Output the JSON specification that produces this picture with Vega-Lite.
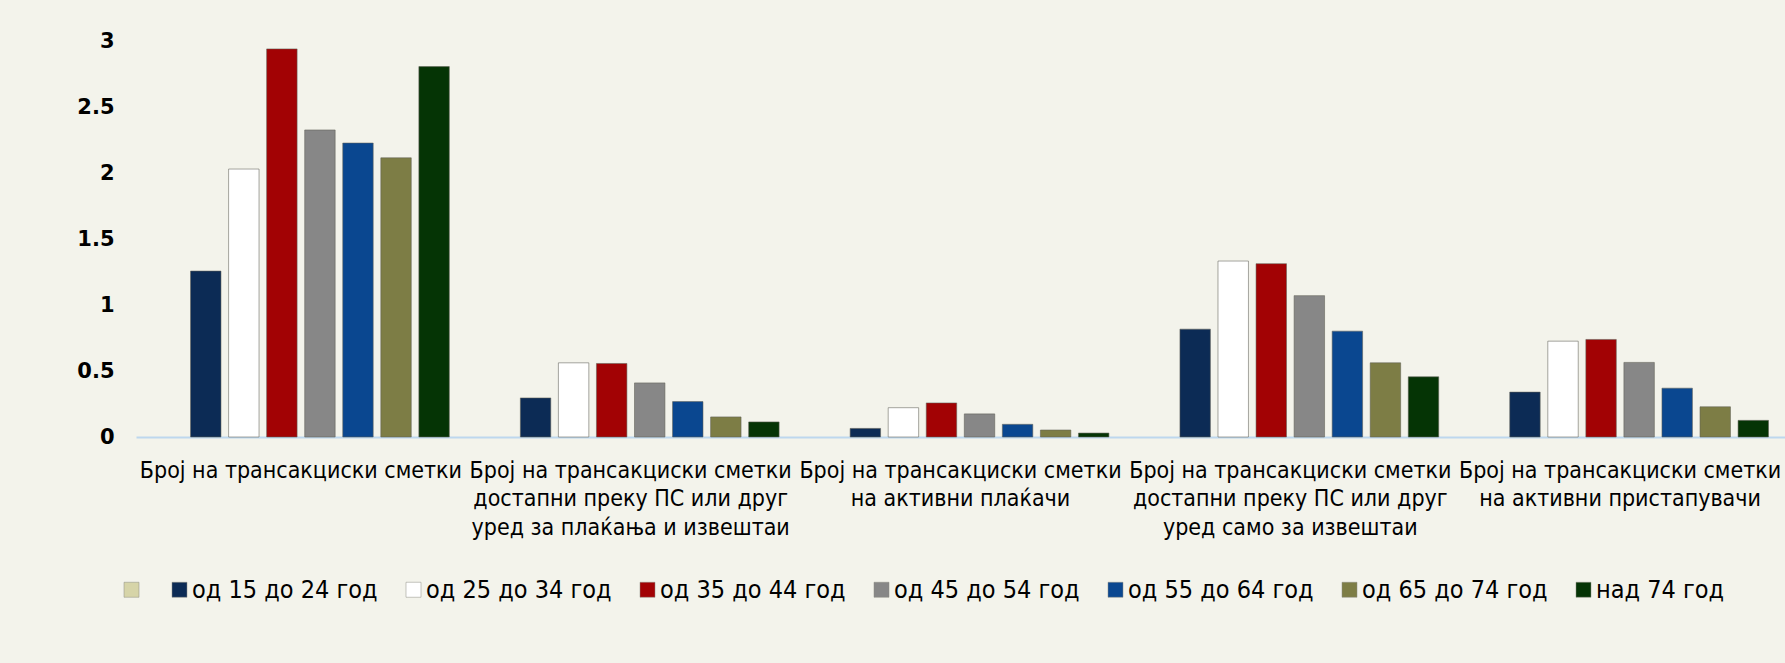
{
  "$schema": "https://vega.github.io/schema/vega-lite/v6.json",
  "width": 1649,
  "height": 396,
  "autosize": {"type": "none"},
  "padding": {"left": 136, "top": 41, "right": 0, "bottom": 226},
  "background": "#f3f3eb",
  "data": {
    "values": [
      {"category": "Број на трансакциски сметки", "group": "од 15 до 24 год", "value": 1.257},
      {"category": "Број на трансакциски сметки", "group": "од 25 до 34 год", "value": 2.03},
      {"category": "Број на трансакциски сметки", "group": "од 35 до 44 год", "value": 2.94},
      {"category": "Број на трансакциски сметки", "group": "од 45 до 54 год", "value": 2.326},
      {"category": "Број на трансакциски сметки", "group": "од 55 до 64 год", "value": 2.227},
      {"category": "Број на трансакциски сметки", "group": "од 65 до 74 год", "value": 2.115},
      {"category": "Број на трансакциски сметки", "group": "над 74 год", "value": 2.806},
      {"category": "Број на трансакциски сметки|достапни преку ПС или друг|уред за плаќања и извештаи", "group": "од 15 до 24 год", "value": 0.296},
      {"category": "Број на трансакциски сметки|достапни преку ПС или друг|уред за плаќања и извештаи", "group": "од 25 до 34 год", "value": 0.562},
      {"category": "Број на трансакциски сметки|достапни преку ПС или друг|уред за плаќања и извештаи", "group": "од 35 до 44 год", "value": 0.557},
      {"category": "Број на трансакциски сметки|достапни преку ПС или друг|уред за плаќања и извештаи", "group": "од 45 до 54 год", "value": 0.41},
      {"category": "Број на трансакциски сметки|достапни преку ПС или друг|уред за плаќања и извештаи", "group": "од 55 до 64 год", "value": 0.268},
      {"category": "Број на трансакциски сметки|достапни преку ПС или друг|уред за плаќања и извештаи", "group": "од 65 до 74 год", "value": 0.152},
      {"category": "Број на трансакциски сметки|достапни преку ПС или друг|уред за плаќања и извештаи", "group": "над 74 год", "value": 0.114},
      {"category": "Број на трансакциски сметки|на активни плаќачи", "group": "од 15 до 24 год", "value": 0.065},
      {"category": "Број на трансакциски сметки|на активни плаќачи", "group": "од 25 до 34 год", "value": 0.222},
      {"category": "Број на трансакциски сметки|на активни плаќачи", "group": "од 35 до 44 год", "value": 0.258},
      {"category": "Број на трансакциски сметки|на активни плаќачи", "group": "од 45 до 54 год", "value": 0.175},
      {"category": "Број на трансакциски сметки|на активни плаќачи", "group": "од 55 до 64 год", "value": 0.096},
      {"category": "Број на трансакциски сметки|на активни плаќачи", "group": "од 65 до 74 год", "value": 0.053},
      {"category": "Број на трансакциски сметки|на активни плаќачи", "group": "над 74 год", "value": 0.03},
      {"category": "Број на трансакциски сметки|достапни преку ПС или друг|уред само за извештаи", "group": "од 15 до 24 год", "value": 0.817},
      {"category": "Број на трансакциски сметки|достапни преку ПС или друг|уред само за извештаи", "group": "од 25 до 34 год", "value": 1.333},
      {"category": "Број на трансакциски сметки|достапни преку ПС или друг|уред само за извештаи", "group": "од 35 до 44 год", "value": 1.313},
      {"category": "Број на трансакциски сметки|достапни преку ПС или друг|уред само за извештаи", "group": "од 45 до 54 год", "value": 1.071},
      {"category": "Број на трансакциски сметки|достапни преку ПС или друг|уред само за извештаи", "group": "од 55 до 64 год", "value": 0.802},
      {"category": "Број на трансакциски сметки|достапни преку ПС или друг|уред само за извештаи", "group": "од 65 до 74 год", "value": 0.562},
      {"category": "Број на трансакциски сметки|достапни преку ПС или друг|уред само за извештаи", "group": "над 74 год", "value": 0.456},
      {"category": "Број на трансакциски сметки|на активни пристапувачи", "group": "од 15 до 24 год", "value": 0.34},
      {"category": "Број на трансакциски сметки|на активни пристапувачи", "group": "од 25 до 34 год", "value": 0.726},
      {"category": "Број на трансакциски сметки|на активни пристапувачи", "group": "од 35 до 44 год", "value": 0.739},
      {"category": "Број на трансакциски сметки|на активни пристапувачи", "group": "од 45 до 54 год", "value": 0.565},
      {"category": "Број на трансакциски сметки|на активни пристапувачи", "group": "од 55 до 64 год", "value": 0.37},
      {"category": "Број на трансакциски сметки|на активни пристапувачи", "group": "од 65 до 74 год", "value": 0.229},
      {"category": "Број на трансакциски сметки|на активни пристапувачи", "group": "над 74 год", "value": 0.126}
    ]
  },
  "mark": {"type": "bar", "stroke": "#5e5e55", "strokeOpacity": 0.55, "strokeWidth": 1},
  "encoding": {
    "x": {
      "field": "category",
      "type": "nominal",
      "sort": null,
      "title": null,
      "scale": {"paddingInner": 0.1, "paddingOuter": 0.05},
      "axis": {
        "labelExpr": "split(datum.label, '|')",
        "labelAngle": 0,
        "labelFont": "DejaVu Sans Condensed",
        "labelFontSize": 23,
        "labelColor": "#000000",
        "labelLineHeight": 28.5,
        "labelBaseline": "top",
        "labelPadding": 22,
        "labelLimit": 0,
        "labelOverlap": false,
        "ticks": false,
        "domainColor": "#bdd7ee",
        "domainWidth": 2
      }
    },
    "xOffset": {
      "field": "group",
      "type": "nominal",
      "scale": {
        "domain": [" ", "од 15 до 24 год", "од 25 до 34 год", "од 35 до 44 год", "од 45 до 54 год", "од 55 до 64 год", "од 65 до 74 год", "над 74 год"],
        "paddingInner": 0.2,
        "paddingOuter": 0
      }
    },
    "y": {
      "field": "value",
      "type": "quantitative",
      "title": null,
      "scale": {"domain": [0, 3], "nice": false},
      "axis": {
        "values": [0, 0.5, 1, 1.5, 2, 2.5, 3],
        "format": "~g",
        "grid": false,
        "domain": false,
        "ticks": false,
        "labelFont": "DejaVu Sans",
        "labelFontWeight": "bold",
        "labelFontSize": 21,
        "labelColor": "#000000",
        "labelPadding": 22
      }
    },
    "color": {
      "field": "group",
      "type": "nominal",
      "scale": {
        "domain": [" ", "од 15 до 24 год", "од 25 до 34 год", "од 35 до 44 год", "од 45 до 54 год", "од 55 до 64 год", "од 65 до 74 год", "над 74 год"],
        "range": ["#d6d4a8", "#0c2b55", "#ffffff", "#a20204", "#878787", "#0a4790", "#7d7d45", "#053405"]
      },
      "legend": {
        "title": null,
        "orient": "none",
        "direction": "horizontal",
        "legendX": -17,
        "legendY": 536,
        "symbolType": "square",
        "symbolSize": 225,
        "symbolStrokeColor": "#8a8a80",
        "symbolStrokeWidth": 0.5,
        "labelFont": "DejaVu Sans Condensed",
        "labelFontSize": 25,
        "labelColor": "#000000",
        "labelOffset": 0,
        "columnPadding": 23,
        "labelLimit": 0
      }
    }
  },
  "config": {"view": {"stroke": null}}
}
